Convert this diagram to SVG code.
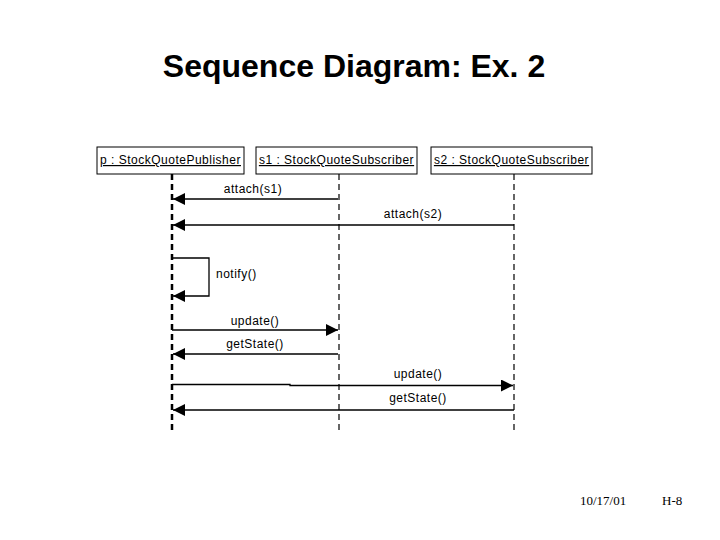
<svg xmlns="http://www.w3.org/2000/svg" width="720" height="540" viewBox="0 0 720 540">
<style>
.obj{fill:#fff;stroke:#000;stroke-width:1}
.lbl{font-family:"Liberation Sans",Arial,sans-serif;font-size:12px;letter-spacing:0.5px;fill:#000}
.msg{fill:none;stroke:#000;stroke-width:1.3}
.life{stroke:#000;stroke-width:1.2;stroke-dasharray:6,4}
.lifeT{stroke:#000;stroke-width:2.5;stroke-dasharray:6,4}
</style>
<defs>
<marker id="ah" viewBox="0 0 10 10" refX="10" refY="5" markerWidth="16" markerHeight="12" markerUnits="userSpaceOnUse" orient="auto">
<path d="M0,0 L10,5 L0,10 z" fill="#000"/>
</marker>
</defs>
<rect width="720" height="540" fill="#fff"/>
<text x="354" y="77" text-anchor="middle" font-family="'Liberation Sans',Arial,sans-serif" font-weight="bold" font-size="32">Sequence Diagram: Ex. 2</text>

<g id="p">
<rect class="obj" x="97" y="147" width="147" height="27"/>
<text class="lbl" x="170.5" y="164" text-anchor="middle" text-decoration="underline">p : StockQuotePublisher</text>
<line class="lifeT" x1="172" y1="174" x2="172" y2="432"/>
</g>
<g id="s1">
<rect class="obj" x="256" y="147" width="161" height="27"/>
<text class="lbl" x="336.5" y="164" text-anchor="middle" text-decoration="underline">s1 : StockQuoteSubscriber</text>
<line class="life" x1="339" y1="174" x2="339" y2="430"/>
</g>
<g id="s2">
<rect class="obj" x="431" y="147" width="161" height="27"/>
<text class="lbl" x="511.5" y="164" text-anchor="middle" text-decoration="underline">s2 : StockQuoteSubscriber</text>
<line class="life" x1="514" y1="174" x2="514" y2="430"/>
</g>

<g id="connectors">
<line class="msg" x1="338" y1="199" x2="173" y2="199" marker-end="url(#ah)"/>
<text class="lbl" x="253" y="193" text-anchor="middle">attach(s1)</text>
<line class="msg" x1="514" y1="225" x2="173" y2="225" marker-end="url(#ah)"/>
<text class="lbl" x="413" y="218" text-anchor="middle">attach(s2)</text>
<polyline class="msg" points="172,258 209,258 209,296 173,296" marker-end="url(#ah)"/>
<text class="lbl" x="216" y="278">notify()</text>
<line class="msg" x1="172" y1="330" x2="338" y2="330" marker-end="url(#ah)"/>
<text class="lbl" x="255" y="325" text-anchor="middle">update()</text>
<line class="msg" x1="338" y1="354" x2="173" y2="354" stroke-width="2.2" marker-end="url(#ah)"/>
<text class="lbl" x="255" y="348" text-anchor="middle">getState()</text>
<polyline class="msg" points="172,384.5 290,384.5 290,385.5 513,385.5" marker-end="url(#ah)"/>
<text class="lbl" x="418" y="378" text-anchor="middle">update()</text>
<line class="msg" x1="514" y1="410" x2="173" y2="410" marker-end="url(#ah)"/>
<text class="lbl" x="418" y="402" text-anchor="middle">getState()</text>
</g>

<text x="580" y="505" font-family="'Liberation Serif','Times New Roman',serif" font-size="13">10/17/01</text>
<text x="662" y="505" font-family="'Liberation Serif','Times New Roman',serif" font-size="13">H-8</text>
</svg>
